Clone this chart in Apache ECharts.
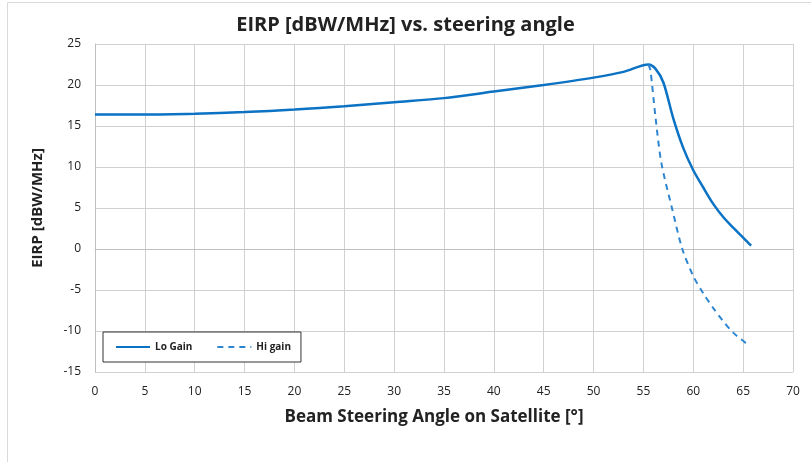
<!DOCTYPE html>
<html>
<head>
<meta charset="utf-8">
<script src="https://cdn.jsdelivr.net/npm/echarts@6/dist/echarts.min.js"></script>
<style>
html, body { margin: 0; padding: 0; background: #fff; }
#main { width: 811px; height: 462px; }
</style>
</head>
<body>
<div id="main"></div>
<script>
// steering angle [deg] / EIRP [dBW/MHz]
var loAngle = [0, 5, 10, 15, 20, 25, 30, 35, 40, 45, 50, 53, 55.5, 56.2, 57, 58, 59, 60, 61, 62, 63, 64, 65, 65.8];
var loEirp = [16.4, 16.4, 16.5, 16.7, 17.0, 17.4, 17.9, 18.4, 19.2, 20.0, 20.9, 21.6, 22.5, 22.0, 20.3, 15.9, 12.3, 9.6, 7.5, 5.5, 3.9, 2.6, 1.4, 0.4];

var hiAngle = [55.5, 55.7, 56.2, 56.8, 57.9, 58.9, 60, 61, 62, 63, 64, 65.4];
var hiEirp = [22.5, 21.8, 16.2, 10.5, 4.8, 0.0, -3.3, -5.4, -7.2, -8.8, -10.2, -11.6];

var xTicks = { min: 0, max: 70, step: 5 };
var yTicks = { min: -15, max: 25, step: 5 };

function pairs(xs, ys) {
    var out = [];
    for (var i = 0; i < xs.length; i++) out.push([xs[i], ys[i]]);
    return out;
}

var chart = echarts.init(document.getElementById('main'));
var font = 'Open Sans';
var blue = '#0b72c4';

var option = {
    animation: false,
    textStyle: { fontFamily: font },
    graphic: [{
        type: 'rect',
        shape: { x: 7.5, y: 2.5, width: 830, height: 500 },
        style: { fill: 'none', stroke: '#d9d9d9', lineWidth: 1 }
    }],
    title: {
        text: 'EIRP [dBW/MHz] vs. steering angle',
        left: 'center',
        top: 10,
        textStyle: { fontFamily: font, fontSize: 20, fontWeight: 'bold', color: '#222' }
    },
    legend: {
        left: 103,
        top: 332,
        orient: 'horizontal',
        backgroundColor: '#fff',
        borderColor: '#333',
        borderWidth: 1,
        borderRadius: 0,
        padding: [10, 10, 10, 12],
        itemWidth: 34,
        itemHeight: 10,
        itemGap: 24,
        itemStyle: { opacity: 0 },
        textStyle: { fontFamily: font, fontSize: 10, fontWeight: 'bold', color: '#222' },
        data: ['Lo Gain', 'Hi gain']
    },
    grid: { left: 95, right: 18, top: 44, bottom: 90 },
    xAxis: {
        type: 'value',
        min: xTicks.min,
        max: xTicks.max,
        interval: xTicks.step,
        name: 'Beam Steering Angle on Satellite [°]',
        nameLocation: 'middle',
        nameGap: 37,
        nameTextStyle: { fontFamily: font, fontSize: 17, fontWeight: 'bold', color: '#222', padding: [0, 20, 0, 0] },
        axisLine: { lineStyle: { color: '#bfbfbf' } },
        axisTick: { show: false },
        axisLabel: { fontSize: 12, color: '#222', margin: 14 },
        splitLine: { show: true, lineStyle: { color: '#d0d0d0', width: 1 } }
    },
    yAxis: {
        type: 'value',
        min: yTicks.min,
        max: yTicks.max,
        interval: yTicks.step,
        name: 'EIRP [dBW/MHz]',
        nameLocation: 'middle',
        nameGap: 50,
        nameTextStyle: { fontFamily: font, fontSize: 15, fontWeight: 'bold', color: '#222' },
        axisLine: { show: true, lineStyle: { color: '#bfbfbf' } },
        axisTick: { show: false },
        axisLabel: { fontSize: 12, color: '#222', margin: 14 },
        splitLine: { show: true, lineStyle: { color: '#d0d0d0', width: 1 } }
    },
    series: [{
        name: 'Lo Gain',
        type: 'line',
        data: pairs(loAngle, loEirp),
        smooth: 0.3,
        symbol: 'none',
        itemStyle: { color: blue },
        lineStyle: { color: blue, width: 2.5 }
    }, {
        name: 'Hi gain',
        type: 'line',
        data: pairs(hiAngle, hiEirp),
        smooth: 0.3,
        symbol: 'none',
        itemStyle: { color: '#2f86d0' },
        lineStyle: { color: '#2f86d0', width: 2, type: [6, 5] }
    }]
};
chart.setOption(option);
</script>
</body>
</html>
